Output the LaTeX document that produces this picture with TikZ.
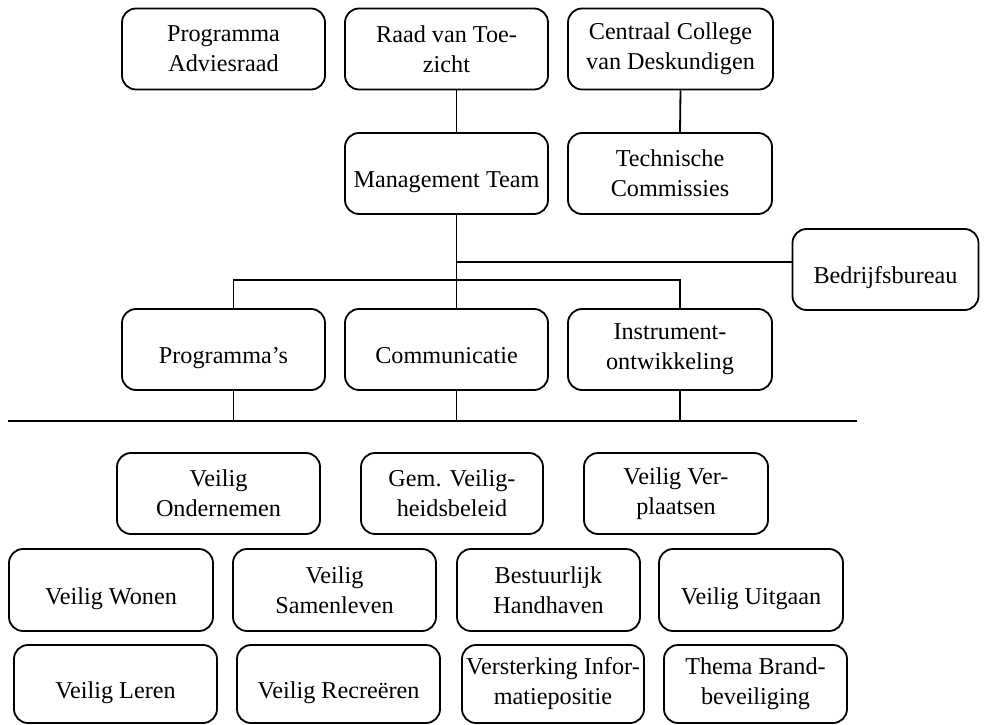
\documentclass[tikz,border=0pt]{standalone}
\usepackage{fontspec}
\setmainfont{Liberation Serif}
\begin{document}
\begin{tikzpicture}[x=1pt, y=-1pt,
        box/.style={draw, line width=1.8pt, rounded corners=14pt, align=center, inner sep=0pt,
                    font=\fontsize{24.2}{30}\selectfont},
        oneline/.style={text height=33pt, text depth=5pt},
        link/.style={line width=1.8pt}]

    \useasboundingbox (0,0) rectangle (986,725);

    % bovenste rij
    \node[box, minimum width=203pt, minimum height=81pt] (pa)  at (223.5,49) {Programma\\Adviesraad};
    \node[box, minimum width=203pt, minimum height=81pt] (rvt) at (446.5,49) {Raad van Toe-\\zicht};
    \node[box, minimum width=205pt, minimum height=81pt] (ccd) at (670.5,49) {Centraal College\\van Deskundigen};

    \node[box, oneline, minimum width=203pt, minimum height=81pt] (mt) at (446.5,173.5) {Management Team};
    \node[box, minimum width=204pt, minimum height=81pt] (tc) at (670,173.5) {Technische\\Commissies};
    \node[box, oneline, minimum width=186pt, minimum height=81pt] (bb) at (885.5,269.5) {Bedrijfsbureau};

    % afdelingen
    \node[box, oneline, minimum width=203pt, minimum height=81pt] (prog)  at (223.5,349.5) {Programma’s};
    \node[box, oneline, minimum width=203pt, minimum height=81pt] (comm)  at (446.5,349.5) {Communicatie};
    \node[box, minimum width=204pt, minimum height=81pt] (instr) at (670,349.5) {Instrument-\\ontwikkeling};

    % programma's
    \node[box, minimum width=203pt, minimum height=81pt] (vo)  at (218.5,493.5) {Veilig\\Ondernemen};
    \node[box, minimum width=182pt, minimum height=81pt] (gvb) at (452,493.5) {Gem. Veilig-\\heidsbeleid};
    \node[box, minimum width=184pt, minimum height=81pt] (vv)  at (676,493.5) {Veilig Ver-\\plaatsen};

    \node[box, oneline, minimum width=204pt, minimum height=82pt] (vw) at (111,590) {Veilig Wonen};
    \node[box, minimum width=203pt, minimum height=82pt] (vs) at (334.5,590) {Veilig\\Samenleven};
    \node[box, minimum width=183pt, minimum height=82pt] (bh) at (548.5,590) {Bestuurlijk\\Handhaven};
    \node[box, oneline, minimum width=184pt, minimum height=82pt] (vu) at (751,590) {Veilig Uitgaan};

    \node[box, oneline, minimum width=203pt, minimum height=78pt] (vl) at (115.5,684) {Veilig Leren};
    \node[box, oneline, minimum width=203pt, minimum height=78pt] (vr) at (338.5,684) {Veilig Recreëren};
    \node[box, minimum width=182pt, minimum height=78pt] (vi) at (553,684) {Versterking Infor-\\matiepositie};
    \node[box, minimum width=183pt, minimum height=78pt] (tb) at (755.5,684) {Thema Brand-\\beveiliging};

    % lijnen
    \draw[link] ([xshift=10pt]rvt.south) -- ([xshift=10pt]mt.north);
    \draw[link] ([xshift=10pt]ccd.south) -- ([xshift=10pt]tc.north);

    \coordinate (trunk) at ([xshift=10pt]mt.south);
    \coordinate (bbin) at ([yshift=7.5pt]bb.west);
    \draw[link] (trunk) -- ([xshift=10pt]comm.north);
    \draw[link] (bbin) -- (trunk |- bbin);
    \draw[link] ([xshift=10pt]prog.north) -- ++(0,-28) -| ([xshift=10pt]instr.north);

    \coordinate (rail-l) at (8,421);
    \coordinate (rail-r) at (857,421);
    \draw[link] (rail-l) -- (rail-r);
    \foreach \n in {prog,comm,instr}
    \draw[link] ([xshift=10pt]\n.south) -- ++(0,31);

\end{tikzpicture}
\end{document}
